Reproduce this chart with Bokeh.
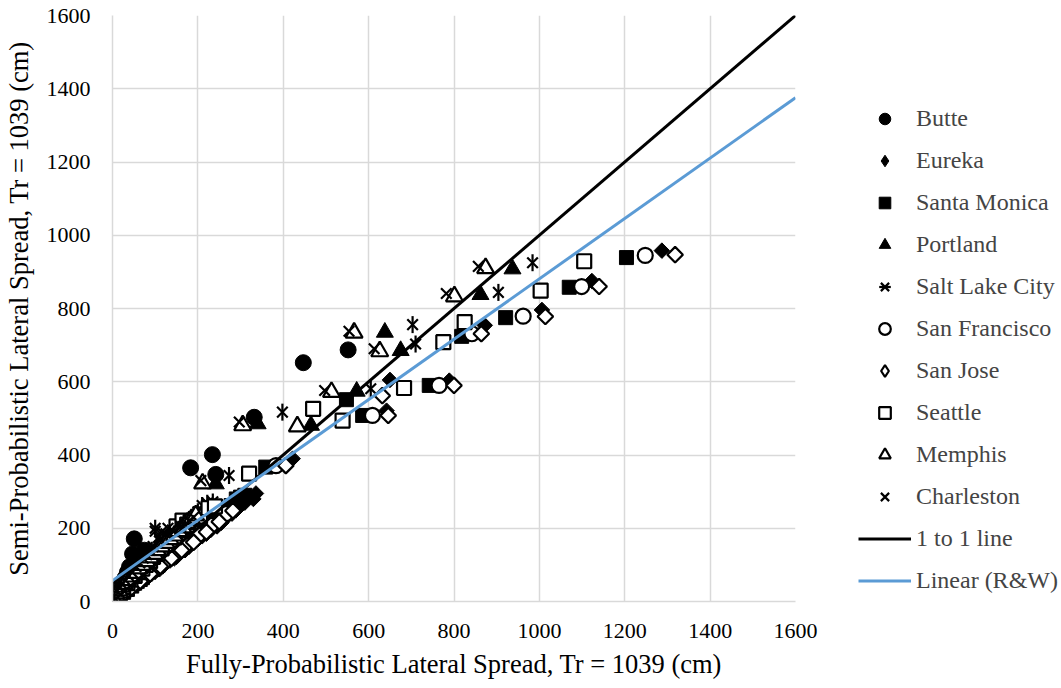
import math
from bokeh.plotting import figure
from bokeh.models import Legend, LegendItem, Range1d, FixedTicker
from bokeh.embed import file_html
from bokeh.resources import INLINE

# ---------------- data (cm) ----------------
butte_x = [0, 2, 5, 8, 10, 12, 16, 18, 20, 25, 28, 30, 35, 38, 40, 45, 47, 51, 55, 60, 75, 183, 234, 242, 332, 447, 552]
butte_y = [2, 4, 10, 15, 20, 25, 35, 38, 45, 55, 60, 65, 80, 70, 95, 90, 130, 171, 100, 110, 140, 365, 401, 347, 503, 652, 687]

eureka_x = [0, 5, 12, 20, 30, 42, 55, 62, 70, 78, 85, 95, 100, 110, 118, 128, 135, 145, 150, 160, 170, 180, 190, 200,
            210, 220, 230, 245, 255, 265, 280, 290, 300, 310, 320, 330, 336, 422, 650, 642, 789, 872, 1006, 1123, 1287]
eureka_y = [1, 3, 8, 15, 25, 34, 45, 50, 58, 62, 70, 80, 82, 88, 96, 108, 112, 118, 122, 135, 140, 150, 160, 170,
            178, 185, 195, 205, 215, 228, 240, 250, 262, 270, 285, 280, 295, 390, 605, 521, 603, 754, 796, 875, 958]

smonica_x = [0, 4, 10, 18, 26, 35, 45, 52, 58, 65, 70, 78, 85, 92, 100, 108, 115, 122, 130, 140, 150, 158, 165, 175,
             185, 195, 205, 215, 225, 235, 245, 255, 265, 278, 290, 300, 310, 359, 548, 586, 742, 818, 921, 1070, 1204]
smonica_y = [2, 5, 10, 18, 25, 33, 42, 50, 55, 60, 65, 75, 80, 88, 96, 100, 110, 118, 125, 130, 142, 150, 160, 168,
             180, 185, 239, 200, 215, 222, 235, 240, 250, 262, 280, 285, 290, 367, 551, 508, 590, 724, 775, 858, 939]

portland_x = [2, 5, 12, 22, 35, 40, 48, 55, 62, 70, 78, 85, 92, 100, 108, 118, 125, 133, 142, 150, 160, 170, 180,
              190, 200, 210, 220, 232, 242, 340, 465, 572, 638, 675, 862, 937]
portland_y = [6, 12, 22, 35, 50, 58, 62, 72, 80, 90, 98, 105, 115, 122, 135, 140, 155, 160, 170, 175, 190, 195, 210,
              215, 225, 232, 245, 250, 321, 485, 481, 574, 735, 685, 838, 908]

slc_x = [3, 10, 16, 22, 28, 35, 42, 50, 58, 68, 76, 85, 92, 100, 110, 118, 128, 135, 145, 152, 160, 170, 180, 190,
         200, 210, 222, 235, 273, 398, 605, 703, 710, 904, 984]
slc_y = [10, 25, 35, 45, 55, 65, 75, 85, 98, 108, 118, 130, 140, 200, 165, 160, 175, 178, 185, 195, 205, 212, 222, 232,
         245, 262, 268, 272, 344, 517, 581, 756, 703, 844, 925]

sfran_x = [1, 8, 20, 35, 55, 75, 95, 120, 145, 170, 200, 230, 265, 383, 609, 765, 842, 962, 1099, 1248]
sfran_y = [2, 8, 18, 32, 50, 68, 85, 108, 132, 155, 182, 208, 240, 371, 508, 590, 731, 779, 860, 945]

sjose_x = [2, 10, 25, 45, 65, 88, 112, 138, 162, 190, 220, 250, 282, 406, 632, 646, 800, 864, 1014, 1140, 1318]
sjose_y = [2, 8, 20, 38, 55, 75, 96, 118, 140, 162, 190, 218, 248, 371, 562, 508, 590, 731, 778, 860, 947]

seattle_x = [3, 10, 18, 25, 35, 42, 52, 60, 70, 78, 88, 95, 105, 115, 125, 135, 145, 150, 164, 175, 183, 195, 205,
             225, 240, 320, 470, 539, 683, 775, 825, 1003, 1105]
seattle_y = [8, 22, 30, 40, 50, 60, 70, 80, 90, 100, 110, 122, 130, 145, 155, 168, 175, 205, 221, 210, 217, 225, 232,
             255, 260, 349, 526, 494, 583, 708, 763, 849, 929]

memphis_x = [2, 8, 15, 20, 28, 35, 45, 52, 62, 70, 80, 88, 98, 105, 115, 125, 135, 145, 155, 165, 175, 185, 195,
             211, 305, 433, 513, 566, 626, 801, 874]
memphis_y = [8, 22, 30, 40, 48, 58, 68, 78, 90, 100, 110, 120, 130, 140, 150, 160, 170, 180, 192, 202, 215, 225, 235,
             322, 481, 478, 572, 734, 683, 833, 910]

charl_x = [3, 10, 16, 22, 30, 38, 46, 55, 64, 72, 80, 88, 95, 100, 108, 115, 125, 130, 140, 150, 160, 170, 180, 190,
           207, 297, 497, 554, 613, 782, 857]
charl_y = [12, 28, 38, 48, 58, 70, 80, 95, 105, 118, 128, 140, 150, 192, 175, 190, 185, 200, 195, 185, 205, 210, 220,
           230, 330, 490, 576, 738, 690, 841, 915]

one_to_one_x = [0, 1600]
rw_slope = 0.824
rw_intercept = 57
axis_ticks = [0, 200, 400, 600, 800, 1000, 1200, 1400, 1600]

FONT = "Liberation Serif"
OFF = [-1000]  # legend-only renderer location (outside the visible range)

p = figure(frame_width=683, frame_height=586, output_backend="svg",
           toolbar_location=None, x_range=Range1d(0, 1600), y_range=Range1d(0, 1600),
           min_border_left=108, min_border_top=15, min_border_bottom=80, min_border_right=266)
p.outline_line_color = None
p.background_fill_color = "white"

for ax in (p.xaxis[0], p.yaxis[0]):
    ax.ticker = FixedTicker(ticks=axis_ticks)
    ax.major_tick_line_color = None
    ax.minor_tick_line_color = None
    ax.axis_line_color = "#d9d9d9"
    ax.axis_line_width = 1.5
    ax.major_label_text_font = FONT
    ax.major_label_text_font_size = "22px"
    ax.major_label_text_color = "black"
    ax.axis_label_text_font = FONT
    ax.axis_label_text_font_size = "26.5px"
    ax.axis_label_text_font_style = "normal"
    ax.axis_label_text_color = "black"

p.xaxis.axis_label = "Fully-Probabilistic Lateral Spread, Tr = 1039 (cm)"
p.yaxis.axis_label = "Semi-Probabilistic Lateral Spread, Tr = 1039 (cm)"
p.xaxis.major_label_standoff = 16
p.yaxis.major_label_standoff = 16
p.xaxis.axis_label_standoff = 8
p.yaxis.axis_label_standoff = 10

p.xgrid.ticker = FixedTicker(ticks=axis_ticks)
p.ygrid.ticker = FixedTicker(ticks=axis_ticks)
p.xgrid.grid_line_color = "#d9d9d9"
p.ygrid.grid_line_color = "#d9d9d9"
p.xgrid.grid_line_width = 1.5
p.ygrid.grid_line_width = 1.5

items = []
def add(label, xs, ys, marker, size, filled, angle=0.0, legend_marker=None):
    fc = "black" if filled else "white"
    lw = 1 if filled else 2.2
    r = p.scatter(xs, ys, marker=marker, size=size, angle=angle,
                  fill_color=fc, line_color="black", line_width=lw)
    rend = [r]
    if legend_marker is not None:
        rend = [p.scatter(OFF, OFF, marker=legend_marker, size=size,
                          fill_color=fc, line_color="black", line_width=lw)]
    items.append(LegendItem(label=label, renderers=rend))
    return r

add("Butte", butte_x, butte_y, "circle", 16, True)
add("Eureka", eureka_x, eureka_y, "square", 11, True, math.pi / 4, legend_marker="diamond")
add("Santa Monica", smonica_x, smonica_y, "square", 14, True)
add("Portland", portland_x, portland_y, "triangle", 17, True)
r1 = p.scatter(slc_x, slc_y, marker="x", size=15, line_color="black", line_width=2.2)
r2 = p.scatter(slc_x, slc_y, marker="dash", size=17, angle=math.pi / 2, line_color="black", line_width=2.2)
items.append(LegendItem(label="Salt Lake City", renderers=[r1, r2]))
add("San Francisco", sfran_x, sfran_y, "circle", 15, False)
add("San Jose", sjose_x, sjose_y, "square", 11, False, math.pi / 4, legend_marker="diamond")
add("Seattle", seattle_x, seattle_y, "square", 14, False)
add("Memphis", memphis_x, memphis_y, "triangle", 17, False)
r = p.scatter(charl_x, charl_y, marker="x", size=15, line_color="black", line_width=2.2)
items.append(LegendItem(label="Charleston", renderers=[r]))

l1 = p.line(one_to_one_x, one_to_one_x, line_color="black", line_width=3)
items.append(LegendItem(label="1 to 1 line", renderers=[l1]))
rw_y = [rw_slope * v + rw_intercept for v in one_to_one_x]
l2 = p.line(one_to_one_x, rw_y, line_color="#5b9bd5", line_width=3)
items.append(LegendItem(label="Linear (R&W)", renderers=[l2]))

legend = Legend(items=items, location=(63, 6), padding=0, margin=0,
                glyph_width=53, glyph_height=29, label_height=29, spacing=13,
                label_standoff=5, label_text_font=FONT, label_text_font_size="24px",
                border_line_color=None, background_fill_alpha=0)
p.add_layout(legend, "right")

open("out.html", "w").write(file_html(p, INLINE))
